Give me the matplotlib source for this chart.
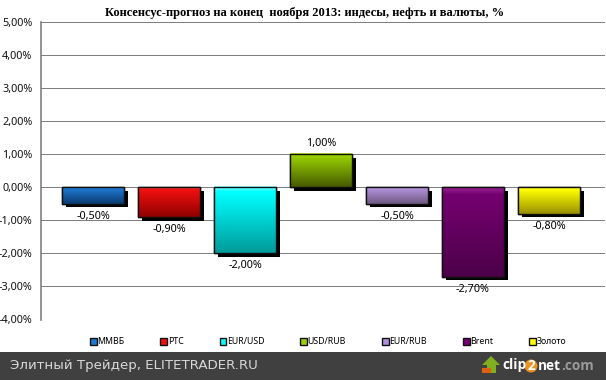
import numpy as np
import matplotlib
matplotlib.use('Agg')
import matplotlib.pyplot as plt
import matplotlib.patches as patches
import matplotlib.patheffects as pe
from matplotlib.colors import to_rgb

categories = ['ММВБ', 'РТС', 'EUR/USD', 'USD/RUB', 'EUR/RUB', 'Brent', 'Золото']
values = [-0.5, -0.9, -2.0, 1.0, -0.5, -2.7, -0.8]
y_ticks = [5, 4, 3, 2, 1, 0, -1, -2, -3, -4]

# highlight, upper, lower colour of every bar
bar_light = ['#55aaf5', '#ff5555', '#99ffff', '#c0e830', '#f0d8ff', '#98208f', '#ffff55']
bar_top = ['#1e78d0', '#f01010', '#00ffff', '#98d000', '#b090d8', '#740070', '#ffff00']
bar_bottom = ['#0a3a70', '#900000', '#009a9a', '#465a00', '#705a80', '#4c0048', '#989000']

W, H = 606, 380
plt.rcParams['font.family'] = ['Noto Sans', 'DejaVu Sans']

def fmt(v):
    return ('%.2f%%' % v).replace('.', ',')

def gradient(light, top, bottom):
    # vertical fill with the bright strip on top
    a, b, c = to_rgb(light), to_rgb(top), to_rgb(bottom)
    part1 = np.linspace(a, b, 6)
    part2 = np.linspace(b, c, 60)
    return np.vstack([part1, part2])[:, None, :]

fig = plt.figure(figsize=(W / 100, H / 100), dpi=100, facecolor='white')
ax = fig.add_axes([41 / W, 1 - 319.5 / H, (605 - 41) / W, (319.5 - 22) / H])

x = np.arange(len(categories))
for i in range(len(categories)):
    v = values[i]
    ax.bar(x[i], v, width=0.815, facecolor=bar_top[i], edgecolor='#101010', linewidth=1,
           label=categories[i], zorder=3,
           path_effects=[pe.SimplePatchShadow(offset=(2.6, -2.6), shadow_rgbFace='black', alpha=1),
                         pe.Normal()])
    ax.imshow(gradient(bar_light[i], bar_top[i], bar_bottom[i]), aspect='auto', zorder=4,
              extent=(x[i] - 0.4075, x[i] + 0.4075, min(v, 0), max(v, 0)))
    ax.bar(x[i], v, width=0.815, facecolor='none', edgecolor='#101010', linewidth=1, zorder=5)
    off = 11 if v > 0 else -12.5
    ax.annotate(fmt(v), (x[i], v), xytext=(0, off * 0.72), textcoords='offset points',
                ha='center', va='center', fontsize=7.8, color='black', zorder=6)

ax.set_xlim(-0.684, 6.737)
ax.set_ylim(-4, 5)
ax.set_yticks(y_ticks)
ax.set_yticklabels([fmt(t) for t in y_ticks], fontsize=7.8, color='#111111')
ax.set_xticks([])
ax.tick_params(axis='y', length=0, pad=6.2)
ax.yaxis.grid(True, color='black', linestyle=(0, (1, 1)), linewidth=0.72)
ax.set_axisbelow(True)
for s in ['top', 'right', 'bottom']:
    ax.spines[s].set_visible(False)
ax.spines['left'].set_color('#808080')
ax.spines['left'].set_linewidth(1.2)

fig.text(305 / W, 1 - 13 / H, 'Консенсус-прогноз на конец  ноября 2013: индесы, нефть и валюты, %',
         family=['Liberation Serif'], fontweight='bold', fontsize=9, ha='center', va='center')

leg = ax.legend(loc='center left', bbox_to_anchor=(90 / W, 1 - 342 / H), bbox_transform=fig.transFigure,
                ncol=7, frameon=False, fontsize=6.3, borderpad=0, borderaxespad=0,
                handlelength=0.75, handleheight=0.75, handletextpad=0.1, columnspacing=4.1)
for h in leg.legend_handles:
    h.set_path_effects([])

# footer strip and logo, pixel coordinates
over = fig.add_axes([0, 0, 1, 1], zorder=10)
over.set_xlim(0, W)
over.set_ylim(H, 0)
over.axis('off')
over.add_patch(patches.Rectangle((0, 352), W, 28, color='#404040', lw=0))
over.text(10, 366, 'Элитный Трейдер, ELITETRADER.RU', family=['DejaVu Sans'], fontsize=9.6,
          color='#d8d8d8', va='center', ha='left')
over.add_patch(patches.Polygon([(491, 356), (500, 365), (496, 365), (496, 373), (487, 373),
                                (487, 365), (482, 365)], color='#80b020', lw=0))
over.add_patch(patches.Rectangle((482, 368), 9, 5, color='#e06010', lw=0))
over.add_patch(patches.Circle((531, 366), 6.5, color='#e89020', lw=0))
over.text(502, 365.5, 'clip', fontsize=9.8, fontweight='bold', color='white', va='center', ha='left',
          family=['Open Sans'])
over.text(531, 365.5, '2', fontsize=9.8, fontweight='bold', color='white', va='center', ha='center',
          family=['Open Sans'])
over.text(538, 365.5, 'net', fontsize=9.8, fontweight='bold', color='white', va='center', ha='left',
          family=['Open Sans'])
over.text(561, 365.5, '.com', fontsize=9.8, fontweight='bold', color='#9a9a9a', va='center', ha='left',
          family=['Open Sans'])

fig.savefig('out.png', dpi=100, facecolor='white')
